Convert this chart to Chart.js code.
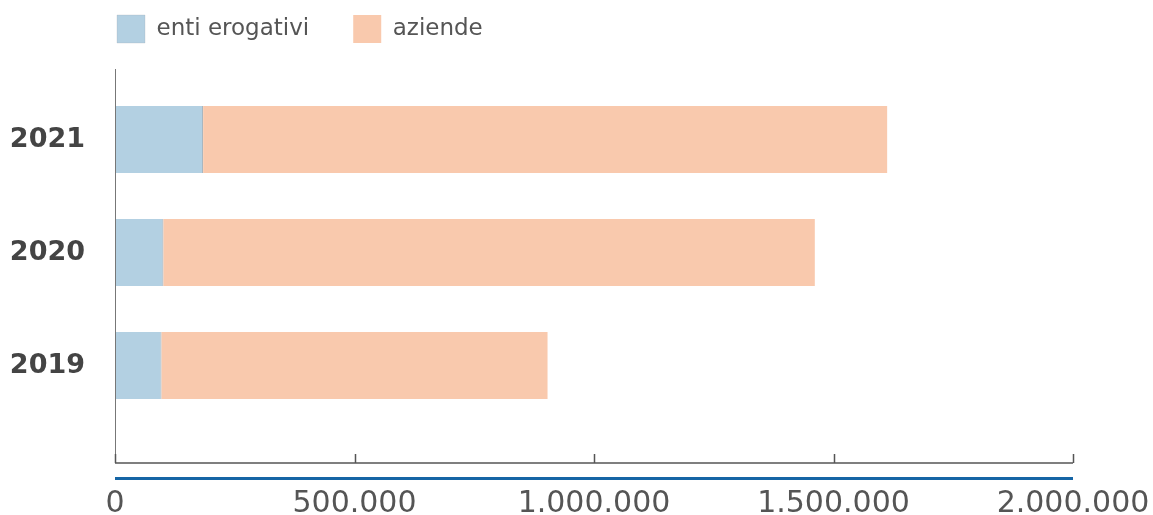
<!DOCTYPE html>
<html>
<head>
<meta charset="utf-8">
<script src="https://cdn.jsdelivr.net/npm/chart.js@4"></script>
<style>
    body { margin: 0; background: #fff; }
    #wrap { width: 1153px; height: 515px; }
</style>
</head>
<body>
<div id="wrap"><canvas id="chart"></canvas></div>
<script>
const years = ["2021", "2020", "2019"];
const entiErogativi = [184000, 101000, 97000];
const aziende = [1428000, 1360000, 806000];
const xTicks = [0, 500000, 1000000, 1500000, 2000000];

const formatNum = v => String(v).replace(/\B(?=(\d{3})+(?!\d))/g, ".");

// axis lines that run past the plot area, like the original
const axisLines = {
    id: "axisLines",
    afterLayout(chart) {
        chart.legend.top -= 30;
        chart.legend.left += 73;
    },
    afterDatasetsDraw(chart) {
        const c = chart.ctx;
        const x = chart.scales.x;
        const left = x.getPixelForValue(0);
        const right = x.getPixelForValue(2000000);
        c.save();
        c.strokeStyle = "#777";
        c.lineWidth = 1;
        c.beginPath();
        c.moveTo(left + 0.5, 69);
        c.lineTo(left + 0.5, 463);
        c.stroke();

        c.strokeStyle = "#555";
        c.lineWidth = 1.5;
        c.beginPath();
        c.moveTo(left, 463);
        c.lineTo(right, 463);
        xTicks.forEach(v => {
            const px = Math.round(x.getPixelForValue(v)) + 0.5;
            c.moveTo(px, 463);
            c.lineTo(px, 454);
        });
        c.stroke();

        c.strokeStyle = "#1565a5";
        c.lineWidth = 3;
        c.beginPath();
        c.moveTo(left, 478.5);
        c.lineTo(right, 478.5);
        c.stroke();
        c.restore();
    }
};

new Chart(document.getElementById("chart"), {
    type: "bar",
    data: {
        labels: years,
        datasets: [
            {
                label: "enti erogativi",
                data: entiErogativi,
                backgroundColor: "#b3d0e2",
                borderColor: "#9aa7b0",
                borderWidth: { right: 1 },
                borderSkipped: false
            },
            {
                label: "aziende",
                data: aziende,
                backgroundColor: "#f9c9ad",
                borderWidth: 0
            }
        ]
    },
    options: {
        indexAxis: "y",
        responsive: true,
        maintainAspectRatio: false,
        animation: false,
        datasets: { bar: { barPercentage: 0.593, categoryPercentage: 1 } },
        layout: { padding: { left: 0, right: 80, top: 1, bottom: 0 } },
        plugins: {
            legend: {
                position: "top",
                align: "start",
                labels: {
                    boxWidth: 28,
                    boxHeight: 28,
                    padding: 44,
                    color: "#555",
                    font: { family: "DejaVu Sans", size: 23 }
                }
            },
            tooltip: { enabled: false }
        },
        scales: {
            x: {
                stacked: true,
                min: 0,
                max: 2000000,
                afterBuildTicks: s => { s.ticks = xTicks.map(v => ({ value: v })); },
                afterFit: s => {
                    s.height = 93;
                    s.paddingLeft = 0;
                    s.paddingRight = 0;
                },
                grid: { display: false, drawTicks: false },
                border: { display: false },
                ticks: {
                    padding: 64,
                    color: "#555",
                    maxRotation: 0,
                    font: { family: "DejaVu Sans", size: 30 },
                    callback: v => formatNum(v)
                }
            },
            y: {
                stacked: true,
                afterFit: s => { s.width = 115; },
                grid: { display: false, drawTicks: false },
                border: { display: false },
                ticks: {
                    padding: 30,
                    color: "#444",
                    font: { family: "DejaVu Sans", size: 27, weight: "bold" }
                }
            }
        }
    },
    plugins: [axisLines]
});
</script>
</body>
</html>
